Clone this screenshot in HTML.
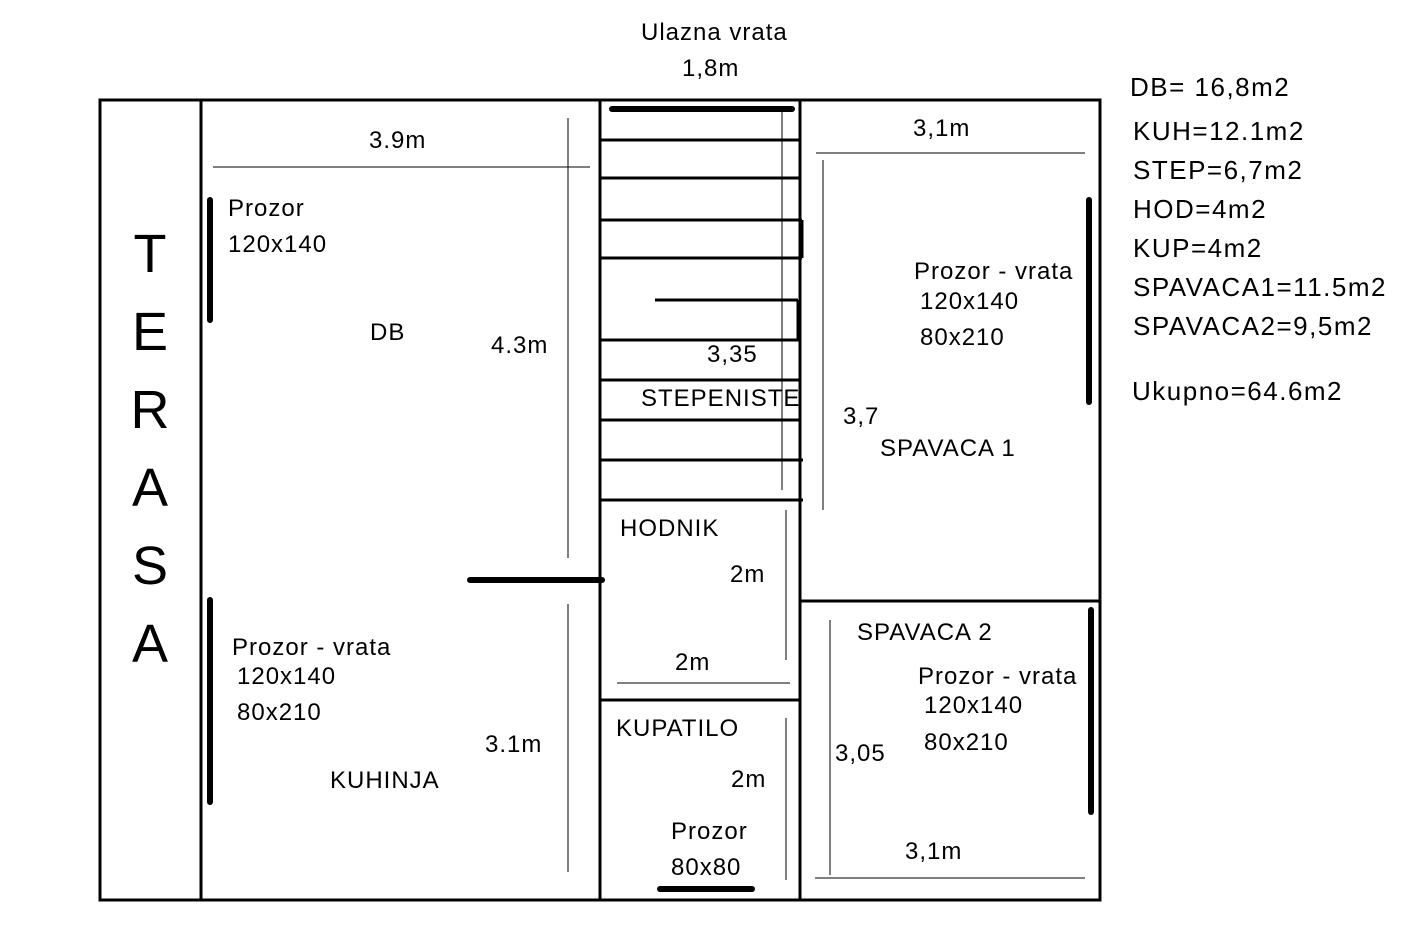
<!DOCTYPE html>
<html><head><style>body{margin:0;background:#fff}svg{display:block}text{font-family:"Liberation Sans",sans-serif;fill:#000}</style></head>
<body>
<svg width="1418" height="945" viewBox="0 0 1418 945">
<g stroke="#000" stroke-width="3" fill="none">
<rect x="100" y="100" width="1000" height="800"/>
<line x1="201" y1="100" x2="201" y2="900"/>
<line x1="600" y1="100" x2="600" y2="900"/>
<line x1="800" y1="100" x2="800" y2="900"/>
<line x1="800" y1="601" x2="1100" y2="601"/>
<line x1="600" y1="700" x2="800" y2="700"/>
<line x1="600" y1="140" x2="800" y2="140"/>
<line x1="600" y1="140" x2="600" y2="180"/>
<line x1="600" y1="178" x2="800" y2="178"/>
<line x1="600" y1="220" x2="802" y2="220"/>
<line x1="802" y1="220" x2="802" y2="258"/>
<line x1="600" y1="258" x2="802" y2="258"/>
<line x1="655" y1="300" x2="798" y2="300"/>
<line x1="798" y1="300" x2="798" y2="340"/>
<line x1="600" y1="340" x2="800" y2="340"/>
<line x1="600" y1="380" x2="800" y2="380"/>
<line x1="600" y1="420" x2="800" y2="420"/>
<line x1="600" y1="460" x2="803" y2="460"/>
<line x1="600" y1="500" x2="803" y2="500"/>
</g>
<g stroke="#000" stroke-width="6" stroke-linecap="round">
<line x1="612" y1="109" x2="792" y2="109"/>
<line x1="210" y1="200" x2="210" y2="320"/>
<line x1="210" y1="600" x2="210" y2="802"/>
<line x1="470" y1="580" x2="602" y2="580"/>
<line x1="1089" y1="200" x2="1089" y2="402"/>
<line x1="1091" y1="610" x2="1091" y2="812"/>
<line x1="660" y1="889" x2="752" y2="889"/>
</g>
<g stroke="#000" stroke-width="1">
<line x1="213" y1="167" x2="590" y2="167"/>
<line x1="568" y1="118" x2="568" y2="558"/>
<line x1="568" y1="604" x2="568" y2="872"/>
<line x1="782" y1="110" x2="782" y2="490"/>
<line x1="786" y1="510" x2="786" y2="660"/>
<line x1="617" y1="683" x2="790" y2="683"/>
<line x1="786" y1="718" x2="786" y2="880"/>
<line x1="816" y1="153" x2="1085" y2="153"/>
<line x1="823" y1="160" x2="823" y2="510"/>
<line x1="830" y1="620" x2="830" y2="875"/>
<line x1="815" y1="878" x2="1085" y2="878"/>
</g>
<g font-size="24" letter-spacing="1">
<text x="641" y="40">Ulazna vrata</text>
<text x="682" y="76">1,8m</text>
<text x="369" y="148">3.9m</text>
<text x="228" y="216">Prozor</text>
<text x="228" y="252">120x140</text>
<text x="370" y="340">DB</text>
<text x="491" y="353">4.3m</text>
<text x="232" y="655">Prozor - vrata</text>
<text x="237" y="684">120x140</text>
<text x="237" y="720">80x210</text>
<text x="485" y="752">3.1m</text>
<text x="330" y="788">KUHINJA</text>
<text x="707" y="362">3,35</text>
<text x="641" y="406">STEPENISTE</text>
<text x="620" y="536">HODNIK</text>
<text x="730" y="582">2m</text>
<text x="675" y="670">2m</text>
<text x="616" y="736">KUPATILO</text>
<text x="731" y="787">2m</text>
<text x="671" y="839">Prozor</text>
<text x="671" y="875">80x80</text>
<text x="913" y="136">3,1m</text>
<text x="914" y="279">Prozor - vrata</text>
<text x="920" y="309">120x140</text>
<text x="920" y="345">80x210</text>
<text x="843" y="424">3,7</text>
<text x="880" y="456">SPAVACA 1</text>
<text x="857" y="640">SPAVACA 2</text>
<text x="918" y="684">Prozor - vrata</text>
<text x="924" y="713">120x140</text>
<text x="924" y="750">80x210</text>
<text x="835" y="761">3,05</text>
<text x="905" y="859">3,1m</text>
</g>
<g font-size="26" letter-spacing="1.5">
<text x="1130" y="96">DB= 16,8m2</text>
<text x="1133" y="140">KUH=12.1m2</text>
<text x="1133" y="179">STEP=6,7m2</text>
<text x="1133" y="218">HOD=4m2</text>
<text x="1133" y="257">KUP=4m2</text>
<text x="1133" y="296">SPAVACA1=11.5m2</text>
<text x="1133" y="335">SPAVACA2=9,5m2</text>
<text x="1132" y="400">Ukupno=64.6m2</text>
</g>
<g font-size="54" text-anchor="middle">
<text x="150" y="272">T</text>
<text x="150" y="350">E</text>
<text x="150" y="428">R</text>
<text x="150" y="506">A</text>
<text x="150" y="584">S</text>
<text x="150" y="662">A</text>
</g>
</svg>
</body></html>
